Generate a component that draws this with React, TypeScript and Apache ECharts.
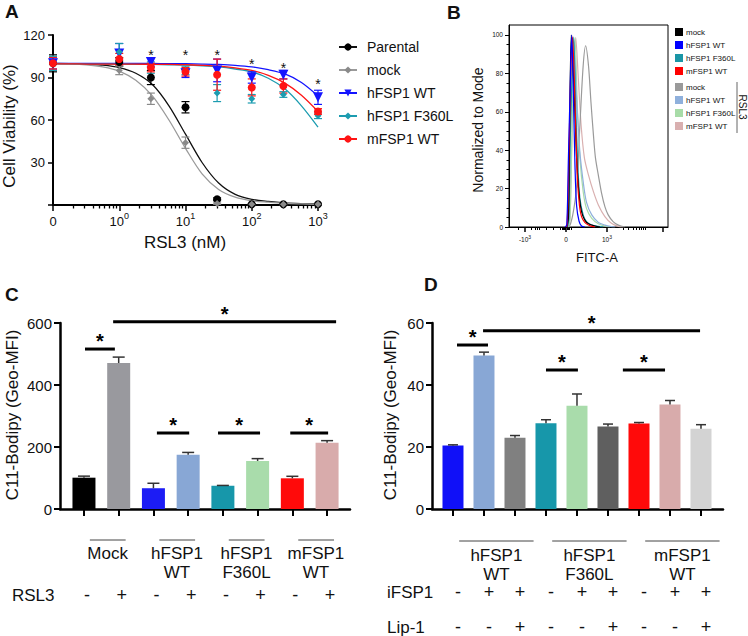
import React, { useEffect, useRef } from 'react';
import * as echarts from 'echarts';

const FONT = '"Liberation Sans", Arial, Helvetica, sans-serif';

// ---------------- Panel A: dose response ----------------
const rsl3Doses = [0, 1, 3, 10, 30, 100, 300, 1000];
const namesA = ['Parental', 'mock', 'hFSP1 WT', 'hFSP1 F360L', 'mFSP1 WT'];
const viabParental = [100, 101, 90, 69, 4, 0.5, 0.5, 0.5];
const errParental = [6, 3, 5, 4, 1, 0.5, 0.5, 0.5];
const viabMock = [100, 95, 75, 44, 1, 0.5, 0.5, 0.5];
const errMock = [5, 3, 4, 4, 0.5, 0.5, 0.5, 0.5];
const viabHWT = [100, 107, 101, 93, 95, 90, 92, 76];
const errHWT = [4, 7, 3, 3, 8, 4, 3, 5];
const viabF360L = [100, 108, 97, 95, 79, 75, 78, 63];
const errF360L = [5, 6, 4, 3, 6, 3, 2, 2];
const viabMWT = [100, 103, 97, 94, 92, 83, 84, 66];
const errMWT = [4, 4, 3, 3, 11, 6, 5, 2];

// fitted curves (x in log10 nM, -1 = zero dose)
const fitX = [-1, -0.75, -0.5, -0.25, 0, 0.25, 0.5, 0.75, 1, 1.25, 1.5, 1.75, 2, 2.25, 2.5, 2.75, 3];
const fitParental = [99.9, 99.8, 99.4, 98.7, 97, 93, 85, 70, 50, 30, 15.5, 7.5, 4, 2.5, 1.5, 1, 0.7];
const fitMock = [99.8, 99.6, 99, 97.5, 94.5, 88, 77, 60, 40, 22, 11, 5.5, 3, 2, 1.2, 0.8, 0.5];
const fitHWT = [100, 100, 100, 100, 99.9, 99.9, 99.9, 99.8, 99.7, 99.5, 99.2, 98.6, 97.5, 95.5, 92.5, 86.5, 77];
const fitF360L = [99.6, 99.6, 99.5, 99.5, 99.4, 99.3, 99.2, 99, 98.8, 98.3, 97.5, 96, 94, 89.5, 82, 70, 55];
const fitMWT = [99.6, 99.6, 99.5, 99.5, 99.5, 99.4, 99.3, 99.2, 99, 98.6, 98, 96.8, 95, 91.5, 86, 77.5, 66];

const starDosesA = [3, 10, 30, 100, 300, 1000];
const starLevelsA = [108, 108, 108, 101.6, 98.8, 87.5];

const ticksA = [-1, 0, 1, 2, 3];
const yTicksA = [0, 30, 60, 90, 120];

// ---------------- Panel B: flow histograms ----------------
// x in biexponential display units (0 = "0", 1 = 10^3, -1 = -10^3)
const histMock = [[0.02, 0], [0.06, 5], [0.09, 50], [0.13, 100], [0.2, 70], [0.26, 36], [0.32, 17], [0.38, 8], [0.46, 3.6], [0.55, 1.7], [0.71, 0.5], [0.83, 0]];
const histHWT = [[-0.02, 0], [0.02, 1], [0.06, 36], [0.1, 70], [0.14, 100], [0.18, 70], [0.22, 32], [0.26, 11], [0.32, 3], [0.38, 0.5], [0.46, 0]];
const histF360L = [[0.04, 0], [0.07, 5], [0.11, 50], [0.19, 98.6], [0.24, 62], [0.29, 32], [0.34, 15], [0.42, 6.3], [0.5, 2.8], [0.63, 1], [0.79, 0.3], [0.91, 0]];
const histMWT = [[0.0, 0], [0.03, 1], [0.07, 35], [0.11, 75], [0.16, 99], [0.2, 79], [0.24, 50], [0.28, 25], [0.33, 11], [0.38, 5.4], [0.46, 2.4], [0.55, 1], [0.63, 0.3], [0.71, 0]];
const histMockR = [[0.04, 0], [0.1, 1], [0.18, 8], [0.26, 21], [0.34, 53], [0.42, 84], [0.48, 94.4], [0.55, 84], [0.61, 65], [0.67, 48], [0.72, 36], [0.79, 27], [0.87, 17.5], [0.95, 10.6], [1.03, 6.3], [1.15, 2.8], [1.28, 1], [1.44, 0]];
const histHWTR = [[0.04, 0], [0.07, 5], [0.11, 50], [0.18, 99], [0.26, 67], [0.34, 39], [0.42, 23.6], [0.5, 13], [0.63, 6.3], [0.79, 2.4], [0.95, 1], [1.11, 0.2], [1.2, 0]];
const histF360LR = [[0.06, 0], [0.1, 5], [0.15, 50], [0.22, 98.6], [0.28, 62], [0.34, 36], [0.42, 18.4], [0.5, 9.7], [0.63, 4.5], [0.79, 1.7], [0.95, 0.5], [1.07, 0]];
const histMWTR = [[0.06, 0], [0.1, 5], [0.15, 50], [0.24, 98.6], [0.3, 78], [0.37, 53], [0.45, 36], [0.55, 27], [0.67, 18.4], [0.79, 11.5], [0.95, 5.4], [1.11, 1.9], [1.28, 0.3], [1.4, 0]];

const bLegendPlain = ['mock', 'hFSP1 WT', 'hFSP1 F360L', 'mFSP1 WT'];
const ticksBMajor = [-1, 0, 1, 2.37];
const ticksBLabel = [-1, 0, 1];
const ticksBMinor = [-1.16, -0.84, -0.76, -0.7, -0.65, -0.47, -0.31, -0.15, -0.1, -0.07, -0.04, -0.02, 0.02, 0.05, 0.08, 0.12, 1.4, 1.52, 1.63, 1.71, 1.79, 1.84, 1.89, 1.94];
const yTicksB = [0, 20, 40, 60, 80, 100];
const yTicksBMinor = [5, 10, 15, 25, 30, 35, 45, 50, 55, 65, 70, 75, 85, 90, 95];

// ---------------- Panel C ----------------
const cGroups = ['Mock', 'hFSP1\nWT', 'hFSP1\nF360L', 'mFSP1\nWT'];
const cRSL3 = ['-', '+', '-', '+', '-', '+', '-', '+'];
const cValues = [101, 471, 67, 175, 75, 155, 99, 214];
const cErrors = [5, 19, 16, 7.5, 1, 7.5, 6.5, 6.5];
const cSig = [[0.03, 0.89, 516], [0.84, 7.26, 604], [2.1, 3.03, 245], [3.86, 5.07, 245], [5.94, 7.03, 245]];

// ---------------- Panel D ----------------
const dGroups = ['hFSP1\nWT', 'hFSP1\nF360L', 'mFSP1\nWT'];
const dIFSP1 = ['-', '+', '+', '-', '+', '+', '-', '+', '+'];
const dLip1 = ['-', '-', '+', '-', '-', '+', '-', '-', '+'];
const dValues = [20.5, 49.5, 23, 27.7, 33.3, 26.6, 27.6, 33.7, 25.9];
const dErrors = [0.2, 1.1, 0.7, 1.1, 3.8, 0.8, 0.3, 1.3, 1.3];
const dSig = [[0.13, 1.13, 52.9], [0.97, 7.97, 57.5], [3.0, 4.03, 44.8], [5.48, 6.84, 44.8]];

// styles
const colorsC = ['#000000', '#99999e', '#1c1cf5', '#88a7d5', '#1797aa', '#a9dcab', '#ff0a0a', '#d8abab'];
const colorsD = ['#1010f8', '#88a7d5', '#808080', '#1797aa', '#a9dcab', '#5f5f5f', '#ff0a0a', '#d8abab', '#d3d3d3'];

const doseX = (d: number) => (d === 0 ? -1 : Math.log10(d));

function buildOption() {
  const aDefs = [
    { name: 'Parental', color: '#000000', line: '#111111', symbol: 'circle', size: 8, rot: 0, vals: viabParental, errs: errParental, fy: fitParental },
    { name: 'mock', color: '#8a8a8a', line: '#9a9a9a', symbol: 'diamond', size: 7, rot: 0, vals: viabMock, errs: errMock, fy: fitMock },
    { name: 'hFSP1 WT', color: '#1414ff', line: '#1414ff', symbol: 'triangle', size: 10, rot: 180, vals: viabHWT, errs: errHWT, fy: fitHWT },
    { name: 'hFSP1 F360L', color: '#1c9cb0', line: '#1c9cb0', symbol: 'diamond', size: 7, rot: 0, vals: viabF360L, errs: errF360L, fy: fitF360L },
    { name: 'mFSP1 WT', color: '#ff1414', line: '#ff1414', symbol: 'circle', size: 8, rot: 0, vals: viabMWT, errs: errMWT, fy: fitMWT },
  ];

  const minorA: number[] = [];
  for (let n = -1; n < 3; n++) for (let k = 2; k <= 9; k++) minorA.push(n + Math.log10(k));

  const series: any[] = [];

  // A: fitted curves (first, so legend icons come from them)
  aDefs.forEach((d) => {
    series.push({
      type: 'line', name: d.name, xAxisIndex: 0, yAxisIndex: 0,
      data: fitX.map((x, i) => [x, d.fy[i]]),
      smooth: 0.3, showSymbol: false,
      symbol: d.symbol, symbolRotate: d.rot, symbolSize: d.size,
      lineStyle: { color: d.line, width: 1.3 }, itemStyle: { color: d.color },
      silent: true, z: 1,
    });
  });
  // A: error bars
  aDefs.forEach((d) => {
    series.push({
      type: 'custom', name: d.name, xAxisIndex: 0, yAxisIndex: 0, silent: true, clip: false, z: 2,
      data: rsl3Doses.map((dose, i) => [doseX(dose), d.vals[i], d.errs[i]]),
      renderItem: (_p: any, api: any) => {
        const x = api.value(0), m = api.value(1), e = api.value(2);
        const lo = api.coord([x, m - e]);
        const hi = api.coord([x, m + e]);
        const st = { stroke: d.color, lineWidth: 1.2 };
        return {
          type: 'group', children: [
            { type: 'line', shape: { x1: lo[0], y1: lo[1], x2: hi[0], y2: hi[1] }, style: st },
            { type: 'line', shape: { x1: lo[0] - 4, y1: lo[1], x2: lo[0] + 4, y2: lo[1] }, style: st },
            { type: 'line', shape: { x1: hi[0] - 4, y1: hi[1], x2: hi[0] + 4, y2: hi[1] }, style: st },
          ],
        };
      },
    });
  });
  // A: points
  aDefs.forEach((d) => {
    series.push({
      type: 'scatter', name: d.name, xAxisIndex: 0, yAxisIndex: 0,
      data: rsl3Doses.map((dose, i) => [doseX(dose), d.vals[i]]),
      symbol: d.symbol, symbolRotate: d.rot, symbolSize: d.size,
      itemStyle: { color: d.color, opacity: 1 }, z: 3, silent: true,
    });
  });
  // A: stars
  series.push({
    type: 'custom', xAxisIndex: 0, yAxisIndex: 0, silent: true, clip: false, z: 4,
    data: starDosesA.map((dose, i) => [doseX(dose), starLevelsA[i]]),
    renderItem: (_p: any, api: any) => {
      const pt = api.coord([api.value(0), api.value(1)]);
      return {
        type: 'text', x: pt[0], y: pt[1] + 3,
        style: { text: '*', fontSize: 14, fontFamily: FONT, fill: '#111', align: 'center', verticalAlign: 'middle' },
      };
    },
  });

  // B: histograms (drawing order: light ones behind)
  const bDefs = [
    { name: 'R:mFSP1 WT', color: '#d9b0b0', data: histMWTR },
    { name: 'R:mock', color: '#9a9a9a', data: histMockR },
    { name: 'R:hFSP1 F360L', color: '#a8dca8', data: histF360LR },
    { name: 'R:hFSP1 WT', color: '#8fb0dc', data: histHWTR },
    { name: 'B:hFSP1 F360L', color: '#1a96a6', data: histF360L },
    { name: 'B:mock', color: '#000000', data: histMock },
    { name: 'B:mFSP1 WT', color: '#ff0000', data: histMWT },
    { name: 'B:hFSP1 WT', color: '#0000ff', data: histHWT },
  ];
  bDefs.forEach((d) => {
    series.push({
      type: 'line', name: d.name, xAxisIndex: 2, yAxisIndex: 1, data: d.data,
      smooth: 0.3, showSymbol: false, symbol: 'none',
      lineStyle: { color: d.color, width: 1.2 }, itemStyle: { color: d.color }, silent: true,
    });
  });

  // C
  series.push({
    type: 'bar', xAxisIndex: 4, yAxisIndex: 3, barWidth: 23, silent: true,
    data: cValues.map((v, i) => ({ value: [i, v], itemStyle: { color: colorsC[i] } })),
  });
  series.push(errorBarSeries(4, 3, cValues, cErrors, 6));
  series.push(sigSeries(4, 3, cSig));
  series.push(signRowSeries(4, 3, cRSL3, 3, 86));
  series.push(groupLabelSeries(4, 3, cGroups, 2, 0.17, 1.2, 0.68, 31, 34.5));

  // D
  series.push({
    type: 'bar', xAxisIndex: 5, yAxisIndex: 4, barWidth: 21, silent: true,
    data: dValues.map((v, i) => ({ value: [i, v], itemStyle: { color: colorsD[i] } })),
  });
  series.push(errorBarSeries(5, 4, dValues, dErrors, 5));
  series.push(sigSeries(5, 4, dSig));
  series.push(signRowSeries(5, 4, dIFSP1, 5, 83));
  series.push(signRowSeries(5, 4, dLip1, 5, 118));
  series.push(groupLabelSeries(5, 4, dGroups, 3, 0.2, 2.6, 1.4, 32, 36.5));

  const axisText = { color: '#111', fontFamily: FONT };

  const option: any = {
    animation: false,
    backgroundColor: '#ffffff',
    textStyle: { fontFamily: FONT },
    grid: [
      { left: 53, top: 35, width: 265, height: 170, containLabel: false, outerBoundsMode: 'none' },
      { left: 509, top: 25, width: 159, height: 202, containLabel: false, outerBoundsMode: 'none', show: true, borderColor: '#000', borderWidth: 1, backgroundColor: 'transparent' },
      { left: 60, top: 323, width: 290, height: 186, containLabel: false, outerBoundsMode: 'none' },
      { left: 432, top: 323, width: 291, height: 186, containLabel: false, outerBoundsMode: 'none' },
    ],
    xAxis: [
      {
        gridIndex: 0, type: 'value', position: 'bottom', min: -1, max: 3,
        axisLine: { onZero: false, lineStyle: { color: '#000', width: 2 } },
        axisTick: { customValues: ticksA, length: 6, lineStyle: { color: '#000', width: 1.5 } },
        axisLabel: {
          customValues: ticksA, margin: 6, fontSize: 13, ...axisText,
          formatter: (v: number) => (v === -1 ? '{b|0}' : `{b|10}{s|${v}}`),
          rich: {
            b: { fontSize: 13, lineHeight: 20, fontFamily: FONT, color: '#111' },
            s: { fontSize: 9, verticalAlign: 'top', lineHeight: 20, fontFamily: FONT, color: '#111' },
          },
        },
        splitLine: { show: false },
      },
      {
        gridIndex: 0, type: 'value', position: 'bottom', min: -1, max: 3,
        axisLine: { show: false, onZero: false },
        axisTick: { customValues: minorA, length: 3.5, lineStyle: { color: '#000', width: 1.3 } },
        axisLabel: { show: false }, splitLine: { show: false },
      },
      {
        gridIndex: 1, type: 'value', position: 'bottom', min: -1.39, max: 2.49,
        axisLine: { onZero: false, lineStyle: { color: '#000', width: 1 } },
        axisTick: { customValues: ticksBMajor, length: 5, lineStyle: { color: '#000', width: 1.5 } },
        axisLabel: {
          customValues: ticksBLabel, margin: 7, fontSize: 6.5, ...axisText,
          formatter: (v: number) => (v === 0 ? '{b|0}' : v < 0 ? '{b|-10}{s|3}' : '{b|10}{s|3}'),
          rich: {
            b: { fontSize: 6.5, lineHeight: 10, fontFamily: FONT, color: '#111' },
            s: { fontSize: 5, verticalAlign: 'top', lineHeight: 10, fontFamily: FONT, color: '#111' },
          },
        },
        splitLine: { show: false },
      },
      {
        gridIndex: 1, type: 'value', position: 'bottom', min: -1.39, max: 2.49,
        axisLine: { show: false, onZero: false },
        axisTick: { customValues: ticksBMinor, length: 3, lineStyle: { color: '#000', width: 1 } },
        axisLabel: { show: false }, splitLine: { show: false },
      },
      {
        gridIndex: 2, type: 'value', position: 'bottom', min: -0.69, max: 7.66,
        axisLine: { onZero: false, lineStyle: { color: '#000', width: 2.5 } },
        axisTick: { customValues: cValues.map((_, i) => i), length: 7, lineStyle: { color: '#000', width: 2 } },
        axisLabel: { show: false }, splitLine: { show: false },
      },
      {
        gridIndex: 3, type: 'value', position: 'bottom', min: -0.677, max: 8.71,
        axisLine: { onZero: false, lineStyle: { color: '#000', width: 2.5 } },
        axisTick: { customValues: dValues.map((_, i) => i), length: 7, lineStyle: { color: '#000', width: 2 } },
        axisLabel: { show: false }, splitLine: { show: false },
      },
    ],
    yAxis: [
      {
        gridIndex: 0, type: 'value', position: 'left', min: 0, max: 120,
        axisLine: { show: true, onZero: false, lineStyle: { color: '#000', width: 2 } },
        axisTick: { show: true, customValues: yTicksA, length: 5, lineStyle: { color: '#000', width: 1.5 } },
        axisLabel: { customValues: yTicksA.slice(1), margin: 8, fontSize: 13, ...axisText },
        splitLine: { show: false },
      },
      {
        gridIndex: 1, type: 'value', position: 'left', min: 0, max: 105.2,
        axisLine: { show: true, onZero: false, lineStyle: { color: '#000', width: 1 } },
        axisTick: { show: true, customValues: yTicksB, length: 4, lineStyle: { color: '#000', width: 1 } },
        axisLabel: { customValues: yTicksB, margin: 6, fontSize: 6.5, ...axisText },
        splitLine: { show: false },
      },
      {
        gridIndex: 1, type: 'value', position: 'left', min: 0, max: 105.2,
        axisLine: { show: false, onZero: false },
        axisTick: { show: true, customValues: yTicksBMinor, length: 2.5, lineStyle: { color: '#000', width: 1 } },
        axisLabel: { show: false }, splitLine: { show: false },
      },
      {
        gridIndex: 2, type: 'value', position: 'left', min: 0, max: 600, interval: 200,
        axisLine: { show: true, onZero: false, lineStyle: { color: '#000', width: 2.5 } },
        axisTick: { show: true, length: 6, lineStyle: { color: '#000', width: 2 } },
        axisLabel: { margin: 8, fontSize: 15, ...axisText },
        splitLine: { show: false },
      },
      {
        gridIndex: 3, type: 'value', position: 'left', min: 0, max: 60, interval: 20,
        axisLine: { show: true, onZero: false, lineStyle: { color: '#000', width: 2.5 } },
        axisTick: { show: true, length: 6, lineStyle: { color: '#000', width: 2 } },
        axisLabel: { margin: 8, fontSize: 15, ...axisText },
        splitLine: { show: false },
      },
    ],
    legend: [
      {
        data: namesA, left: 338, top: 40, padding: 0, orient: 'vertical', itemWidth: 18, itemHeight: 9, itemGap: 9,
        selectedMode: false,
        textStyle: { fontSize: 14, fontFamily: FONT, color: '#111', lineHeight: 14, padding: [0, 0, 0, 5] },
      },
      {
        data: bLegendPlain.map((n) => 'B:' + n), left: 675, top: 28, padding: 0, orient: 'vertical',
        itemWidth: 8, itemHeight: 8, itemGap: 5, icon: 'rect', selectedMode: false,
        formatter: (n: string) => n.slice(2),
        textStyle: { fontSize: 8, fontFamily: FONT, color: '#111', lineHeight: 8, padding: [0, 0, 0, -2] },
      },
      {
        data: bLegendPlain.map((n) => 'R:' + n), left: 675, top: 83, padding: 0, orient: 'vertical',
        itemWidth: 8, itemHeight: 8, itemGap: 5, icon: 'rect', selectedMode: false,
        formatter: (n: string) => n.slice(2),
        textStyle: { fontSize: 8, fontFamily: FONT, color: '#111', lineHeight: 8, padding: [0, 0, 0, -2] },
      },
    ],
    graphic: [
      txt('A', 5, 2, 19, 'bold', 'left', 'top'),
      txt('B', 447, 3, 19, 'bold', 'left', 'top'),
      txt('C', 5, 285, 19, 'bold', 'left', 'top'),
      txt('D', 424, 275, 19, 'bold', 'left', 'top'),
      txt('Cell Viability (%)', 9, 126, 17, 'normal', 'center', 'middle', Math.PI / 2),
      txt('RSL3 (nM)', 185, 242, 17, 'normal', 'center', 'middle'),
      txt('Normalized to Mode', 478, 130, 14, 'normal', 'center', 'middle', Math.PI / 2),
      txt('FITC-A', 597, 257, 13, 'normal', 'center', 'middle'),
      txt('C11-Bodipy (Geo-MFI)', 12, 415, 17, 'normal', 'center', 'middle', Math.PI / 2),
      txt('C11-Bodipy (Geo-MFI)', 390, 415, 17, 'normal', 'center', 'middle', Math.PI / 2),
      txt('RSL3', 12, 595, 17, 'normal', 'left', 'middle'),
      txt('iFSP1', 387, 592, 17, 'normal', 'left', 'middle'),
      txt('Lip-1', 387, 627, 17, 'normal', 'left', 'middle'),
      { type: 'line', shape: { x1: 737, y1: 82, x2: 737, y2: 133 }, style: { stroke: '#666', lineWidth: 1 } },
      txt('RSL3', 742, 107, 10, 'normal', 'center', 'middle', -Math.PI / 2),
    ],
    series,
  };
  return option;
}

function txt(text: string, x: number, y: number, size: number, weight: string, align: string, valign: string, rotation = 0) {
  return {
    type: 'text', x, y, rotation,
    style: {
      text, fontSize: size, fontWeight: weight, fontFamily: FONT, fill: '#111',
      align, verticalAlign: valign, textAlign: align, textVerticalAlign: valign,
    },
  };
}

function errorBarSeries(xi: number, yi: number, vals: number[], errs: number[], hw: number) {
  return {
    type: 'custom', xAxisIndex: xi, yAxisIndex: yi, silent: true, clip: false, z: 3,
    data: vals.map((v, i) => [i, v, errs[i]]),
    renderItem: (_p: any, api: any) => {
      const x = api.value(0), m = api.value(1), e = api.value(2);
      const base = api.coord([x, m]);
      const top = api.coord([x, m + e]);
      const st = { stroke: '#333', lineWidth: 1.5 };
      return {
        type: 'group', children: [
          { type: 'line', shape: { x1: base[0], y1: base[1], x2: top[0], y2: top[1] }, style: st },
          { type: 'line', shape: { x1: top[0] - hw, y1: top[1], x2: top[0] + hw, y2: top[1] }, style: st },
        ],
      };
    },
  };
}

function sigSeries(xi: number, yi: number, sig: number[][]) {
  return {
    type: 'custom', xAxisIndex: xi, yAxisIndex: yi, silent: true, clip: false, z: 4,
    encode: { x: [0, 1], y: 2 },
    data: sig,
    renderItem: (_p: any, api: any) => {
      const p1 = api.coord([api.value(0), api.value(2)]);
      const p2 = api.coord([api.value(1), api.value(2)]);
      return {
        type: 'group', children: [
          { type: 'line', shape: { x1: p1[0], y1: p1[1], x2: p2[0], y2: p2[1] }, style: { stroke: '#000', lineWidth: 3 } },
          {
            type: 'text', x: (p1[0] + p2[0]) / 2, y: p1[1] - 8,
            style: { text: '*', fontSize: 20, fontWeight: 'bold', fontFamily: FONT, fill: '#000', align: 'center', verticalAlign: 'middle' },
          },
        ],
      };
    },
  };
}

function signRowSeries(xi: number, yi: number, signs: string[], dx: number, dy: number) {
  return {
    type: 'custom', xAxisIndex: xi, yAxisIndex: yi, silent: true, clip: false, z: 4,
    data: signs.map((_, i) => [i, 0]),
    renderItem: (p: any, api: any) => {
      const pt = api.coord([api.value(0), 0]);
      return {
        type: 'text', x: pt[0] + dx, y: pt[1] + dy,
        style: { text: signs[p.dataIndex], fontSize: 18, lineHeight: 14, fontFamily: FONT, fill: '#111', align: 'center', verticalAlign: 'middle' },
      };
    },
  };
}

function groupLabelSeries(xi: number, yi: number, groups: string[], span: number, a: number, b: number, c: number, lineDy: number, textDy: number) {
  return {
    type: 'custom', xAxisIndex: xi, yAxisIndex: yi, silent: true, clip: false, z: 4,
    data: groups.map((_, g) => [span * g + c, 0]),
    renderItem: (p: any, api: any) => {
      const g = p.dataIndex;
      const l = api.coord([span * g + a, 0]);
      const r = api.coord([span * g + b, 0]);
      const m = api.coord([span * g + c, 0]);
      return {
        type: 'group', children: [
          { type: 'line', shape: { x1: l[0], y1: l[1] + lineDy, x2: r[0], y2: r[1] + lineDy }, style: { stroke: '#444', lineWidth: 1 } },
          {
            type: 'text', x: m[0], y: m[1] + textDy,
            style: { text: groups[g], fontSize: 17, lineHeight: 19, fontFamily: FONT, fill: '#111', align: 'center', verticalAlign: 'top' },
          },
        ],
      };
    },
  };
}

export default function App() {
  const ref = useRef<HTMLDivElement>(null);
  useEffect(() => {
    const chart = echarts.init(ref.current!, null, { renderer: 'svg' });
    chart.setOption(buildOption());
    return () => chart.dispose();
  }, []);
  return (
    <div
      ref={ref}
      style={{ position: 'fixed', left: 0, top: 0, width: 748, height: 636, background: '#fff' }}
    />
  );
}
